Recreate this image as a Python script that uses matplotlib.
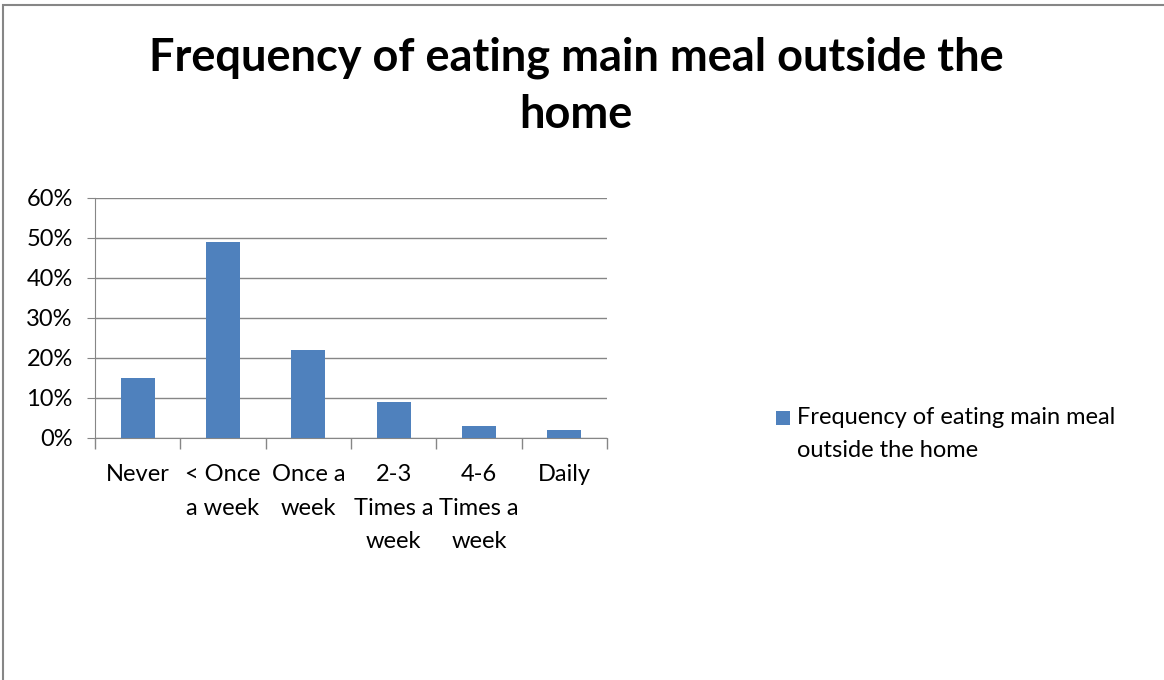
import matplotlib.pyplot as plt
from matplotlib.patches import Rectangle
from matplotlib.ticker import FuncFormatter, MultipleLocator

categories = ["Never", "< Once\na week", "Once a\nweek", "2-3\nTimes a\nweek", "4-6\nTimes a\nweek", "Daily"]
values = [0.15, 0.49, 0.22, 0.09, 0.03, 0.02]
series_name = "Frequency of eating main meal\noutside the home"
title = "Frequency of eating main meal outside the\nhome"

plt.rcParams['font.family'] = ['Lato', 'DejaVu Sans']
grey = '#868686'
blue = '#4F81BD'

fig = plt.figure(figsize=(11.64, 6.8), dpi=100)

# outer chart frame (left and top visible, rest cut off)
fig.add_artist(Rectangle((3 / 1164, -0.1), 1.2, 0.1 + 1 - 5 / 680, transform=fig.transFigure,
                         fill=False, edgecolor=grey, linewidth=1.5))

ax = fig.add_axes([95 / 1164, 1 - 438 / 680, 512 / 1164, 240 / 680])
x = range(len(categories))
ax.bar(x, values, width=0.4, color=blue, zorder=3)

ax.set_xlim(-0.5, len(categories) - 0.5)
ax.set_ylim(0, 0.6)
ax.yaxis.set_major_locator(MultipleLocator(0.1))
ax.yaxis.set_major_formatter(FuncFormatter(lambda v, p: f"{v * 100:.0f}%"))
ax.grid(axis='y', color=grey, linewidth=1, zorder=0)
ax.set_axisbelow(True)

for s in ['top', 'right']:
    ax.spines[s].set_visible(False)
ax.spines['left'].set_color(grey)
ax.spines['bottom'].set_color(grey)

ax.set_xticks([i - 0.5 for i in range(len(categories) + 1)])
ax.set_xticklabels([])
ax.set_xticks(list(x), minor=True)
ax.set_xticklabels(categories, minor=True, fontsize=17, linespacing=1.72, va='top')
ax.tick_params(axis='x', which='major', length=8, color=grey, width=1)
ax.tick_params(axis='x', which='minor', length=0, pad=19)
ax.tick_params(axis='y', length=6, color=grey, labelsize=17, pad=10)

fig.text(576 / 1164, 1 - 86 / 680, title, ha='center', va='center', fontsize=32.5,
         fontweight='bold', linespacing=1.45)

# legend drawn by hand: square key next to first text line
fig.add_artist(Rectangle((776 / 1164, 1 - 425 / 680), 14 / 1164, 14 / 680,
                         transform=fig.transFigure, facecolor=blue, edgecolor='none'))
fig.text(797 / 1164, 1 - 407 / 680, series_name, ha='left', va='top', fontsize=17,
         linespacing=1.72)

fig.savefig('out.png', dpi=100)
